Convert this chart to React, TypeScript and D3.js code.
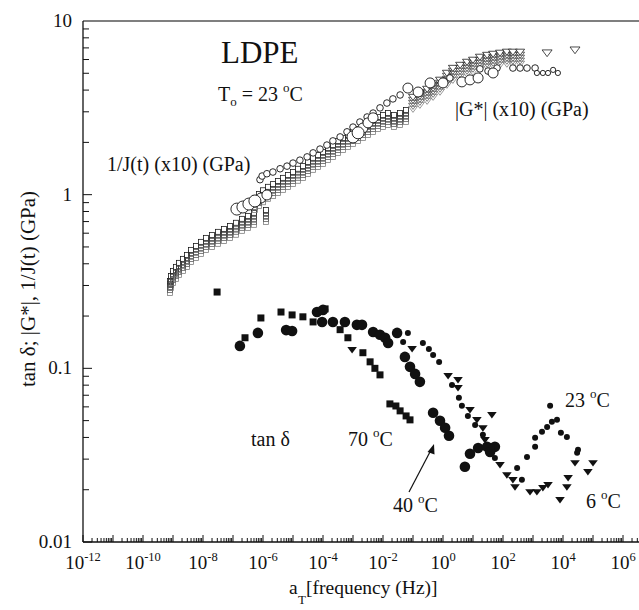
import React from 'react';
import * as d3 from 'd3';

const W = 639;
const H = 610;

// Axis ticks
const X_LABEL_EXPONENTS = [-12, -10, -8, -6, -4, -2, 0, 2, 4, 6];
const Y_TICK_VALUES = [0.01, 0.1, 1, 10];
const Y_TICK_LABELS = ['0.01', '0.1', '1', '10'];

// All series: [log10(aT * frequency / Hz), value]
// 1/J(t) (x10) (GPa) – open squares
const creepSquares: [number, number][] = [
  [-9.1, 0.318], [-9.07, 0.34], [-9.0, 0.364], [-8.9, 0.384], [-8.8, 0.405], [-8.67, 0.427],
  [-8.53, 0.45], [-8.4, 0.481], [-8.23, 0.507], [-8.07, 0.535], [-7.9, 0.564], [-7.7, 0.586],
  [-7.5, 0.611], [-7.3, 0.635], [-7.1, 0.661], [-6.9, 0.689], [-6.7, 0.726], [-6.5, 0.755],
  [-6.3, 0.786], [-5.9, 0.817],
  [-6.27, 0.957], [-6.13, 1.01], [-6.0, 1.06], [-5.83, 1.11], [-5.67, 1.15], [-5.5, 1.2],
  [-5.33, 1.25], [-5.17, 1.3], [-5.0, 1.35], [-4.83, 1.41], [-4.67, 1.46], [-4.5, 1.54],
  [-4.33, 1.63], [-4.17, 1.69], [-4.0, 1.76], [-3.83, 1.86], [-3.67, 1.93], [-3.5, 2.04],
  [-3.33, 2.12], [-3.17, 2.21], [-3.0, 2.3], [-2.83, 2.39], [-2.67, 2.49], [-2.5, 2.59],
  [-2.33, 2.69], [-2.17, 2.8], [-2.0, 2.88], [-1.83, 2.95], [-1.63, 2.88], [-1.43, 2.95],
  [-1.23, 3.07],
];

// |G*| (x10) (GPa) – open down triangles
const modulusTriangles: [number, number][] = [
  [-1.0, 3.65], [-0.77, 3.85], [-0.53, 4.06], [-0.33, 4.28], [-0.1, 4.58], [0.13, 5.02],
  [0.33, 5.36], [0.57, 5.58], [0.8, 5.81], [1.0, 5.97], [1.23, 6.21], [1.47, 6.37],
  [1.67, 6.46], [1.9, 6.55], [2.13, 6.64], [2.33, 6.64], [2.57, 6.64],
];
const modulusTrianglesSparse: [number, number][] = [
  [3.47, 6.55], [4.4, 6.81],
];

// |G*| (x10) (GPa) – open circles, by marker size
const modulusCirclesLarge: [number, number][] = [
  [-6.87, 0.826], [-6.67, 0.849], [-6.47, 0.883], [-6.27, 0.92], [-3.0, 2.15], [-2.83, 2.27],
];
const modulusCirclesMedium: [number, number][] = [
  [-6.07, 0.957], [-5.87, 0.996], [-2.67, 2.42], [-2.5, 2.59], [-2.33, 2.77], [-1.17, 4.11],
  [-0.83, 3.9], [-0.43, 4.4], [0.0, 4.4], [0.63, 4.46], [0.9, 4.58], [1.17, 4.7], [1.67, 5.02],
];
const modulusCirclesSmall: [number, number][] = [
  [-6.1, 1.22], [-6.03, 1.28], [-5.87, 1.32], [-5.67, 1.35], [-5.43, 1.41], [-5.2, 1.46],
  [-5.0, 1.52], [-4.77, 1.58], [-4.53, 1.65], [-4.33, 1.74], [-4.1, 1.83], [-3.87, 1.93],
  [-3.67, 2.04], [-3.43, 2.15], [-3.2, 2.3], [-3.0, 2.45], [-2.77, 2.62], [-2.53, 2.8],
  [-2.33, 2.95], [-2.1, 3.16], [-1.87, 3.37], [-1.67, 3.56], [-1.43, 3.75], [0.23, 4.7],
  [1.23, 5.3], [1.5, 5.15], [1.8, 5.36], [2.33, 5.36], [2.57, 5.36], [2.8, 5.36], [3.07, 5.36],
];
const modulusCirclesTiny: [number, number][] = [
  [3.13, 5.02], [3.33, 5.02], [3.5, 5.02], [3.67, 5.23], [3.83, 5.02],
];

// tan δ – 70 °C filled squares
const tanDelta70: [number, number][] = [
  [-7.53, 0.275], [-6.6, 0.15], [-6.07, 0.195], [-5.4, 0.211], [-5.03, 0.203], [-4.67, 0.198],
  [-4.33, 0.185], [-3.93, 0.22], [-3.43, 0.167], [-3.17, 0.15], [-2.67, 0.123], [-2.43, 0.109],
  [-2.27, 0.1], [-2.1, 0.0917], [-1.77, 0.0624], [-1.57, 0.0607], [-1.43, 0.0569],
  [-1.23, 0.0532], [-1.1, 0.0505],
];
// tan δ – 40 °C large filled circles
const tanDelta40: [number, number][] = [
  [-6.77, 0.1346], [-6.17, 0.16], [-5.23, 0.166], [-5.03, 0.164], [-4.2, 0.211], [-4.0, 0.217],
  [-4.03, 0.185], [-3.67, 0.185], [-3.27, 0.185], [-2.87, 0.178], [-2.7, 0.178], [-2.33, 0.162],
  [-2.1, 0.156], [-1.93, 0.15], [-1.83, 0.14], [-1.53, 0.16], [-1.27, 0.1164], [-1.1, 0.102],
  [-0.93, 0.0929], [-0.77, 0.0836], [-0.33, 0.0555], [-0.1, 0.0499], [0.07, 0.0455],
  [0.2, 0.0409], [0.73, 0.0271], [0.9, 0.0322], [1.17, 0.0348], [1.47, 0.0353], [1.73, 0.0353],
  [1.57, 0.033],
];
// tan δ – 23 °C small filled circles
const tanDelta23: [number, number][] = [
  [-1.17, 0.16], [-1.33, 0.142], [-0.67, 0.14], [-0.47, 0.1294], [-0.33, 0.1194], [-0.13, 0.1088],
  [0.3, 0.0802], [0.53, 0.0676], [0.63, 0.0608], [0.83, 0.0532], [1.07, 0.0472], [1.33, 0.0414],
  [1.63, 0.0353], [1.73, 0.0305], [2.47, 0.0267], [2.63, 0.0228], [2.8, 0.0309], [3.07, 0.0353],
  [3.07, 0.0398], [3.3, 0.0431], [3.47, 0.046], [3.63, 0.0492], [3.8, 0.0506], [3.57, 0.0608],
  [3.93, 0.0426], [4.13, 0.0403], [4.5, 0.034], [4.47, 0.0327],
];
// tan δ – 6 °C filled down triangles
const tanDelta6: [number, number][] = [
  [-3.03, 0.1276], [-1.03, 0.1294], [0.17, 0.0906], [0.5, 0.0859], [0.5, 0.0771], [0.9, 0.0576],
  [1.63, 0.0539], [1.13, 0.0505], [1.33, 0.0453], [1.4, 0.0387], [1.9, 0.0278], [2.13, 0.0243],
  [2.33, 0.0228], [2.4, 0.0207], [2.9, 0.0194], [3.13, 0.0194], [3.33, 0.0205], [3.5, 0.0213],
  [4.17, 0.0234], [4.13, 0.0207], [3.9, 0.0175], [4.4, 0.0285], [4.83, 0.0253], [5.0, 0.0285],
];

const FONT = '"Liberation Serif", "DejaVu Serif", serif';
const STACK = [12, 9, 6, 3];
const STACK_COLORS = ['#777', '#555', '#444', '#333'];

export default function App() {
  const x = d3.scaleLog().domain([1e-12, 1e8]).range([83, 683]);
  const y = d3.scaleLog().domain([0.01, 10]).range([542, 21]);
  const X = (e: number) => x(Math.pow(10, e));
  const Y = (v: number) => y(v);

  const xMinor: { v: number; major: boolean }[] = [];
  for (let d = -12; d <= 7; d++) {
    for (let k = 1; k <= 9; k++) xMinor.push({ v: k * Math.pow(10, d), major: k === 1 });
  }
  const yMinor: { v: number; major: boolean }[] = [];
  for (let d = -2; d <= 0; d++) {
    for (let k = 1; k <= 9; k++) yMinor.push({ v: k * Math.pow(10, d), major: k === 1 });
  }

  const tri = (cx: number, cy: number, s: number) =>
    `M${cx - s},${cy - s * 0.6}L${cx + s},${cy - s * 0.6}L${cx},${cy + s * 0.75}Z`;

  const left = 83, bottom = 542, top = 21;
  const degLabel = (xx: number, yy: number, num: string, k: string) => (
    <text key={k} x={xx} y={yy} fontSize={20} fill="#111">
      {num} <tspan fontSize={13} dy={-9}>o</tspan><tspan dy={9}>C</tspan>
    </text>
  );

  return (
    <svg width={W} height={H} style={{ position: 'absolute', left: 0, top: 0, background: '#fff' }}
      fontFamily={FONT}>
      <rect x={0} y={0} width={W} height={H} fill="#fff" />
      {/* frame */}
      <line x1={left} x2={W} y1={top} y2={top} stroke="#555" strokeWidth={1.5} />
      <line x1={left} x2={left} y1={top} y2={bottom} stroke="#111" strokeWidth={1.3} />
      <line x1={left} x2={W} y1={bottom} y2={bottom} stroke="#111" strokeWidth={1.3} />

      {/* x ticks */}
      {xMinor.map((t, i) => {
        const px = x(t.v);
        if (px > W) return null;
        return <line key={'xt' + i} x1={px} x2={px} y1={bottom} y2={bottom - (t.major ? 7 : 4)}
          stroke="#111" strokeWidth={1} />;
      })}
      {/* y ticks */}
      {yMinor.map((t, i) => {
        const py = y(t.v);
        return <line key={'yt' + i} x1={left} x2={left + (t.major ? 9 : 6)} y1={py} y2={py}
          stroke="#111" strokeWidth={1} />;
      })}

      {/* x tick labels */}
      {X_LABEL_EXPONENTS.map((e) => (
        <text key={'xl' + e} x={X(e)} y={569} textAnchor="middle" fontSize={19} fill="#111">
          10<tspan fontSize={12.5} dy={-8}>{e}</tspan>
        </text>
      ))}
      {/* y tick labels */}
      {Y_TICK_VALUES.map((v, i) => (
        <text key={'yl' + i} x={72} y={y(v) + 6} textAnchor="end" fontSize={19} fill="#111">
          {Y_TICK_LABELS[i]}
        </text>
      ))}

      {/* axis titles */}
      <text transform="translate(35,289) rotate(-90)" textAnchor="middle" fontSize={21} fill="#111">
        tan δ; |G*|, 1/J(t) (GPa)
      </text>
      <text x={289} y={594} fontSize={19.5} fill="#111">a</text>
      <text x={298} y={604} fontSize={13} fill="#111">T</text>
      <text x={306} y={594} fontSize={19.5} fill="#111">[frequency (Hz)]</text>

      {/* upper: 1/J(t) open squares (stacked to mimic overlapping data) */}
      <g fill="none" strokeWidth={0.75}>
        {creepSquares.map(([e, v], i) => {
          const cx = X(e), cy = Y(v);
          return (
            <g key={'cs' + i}>
              {STACK.map((o, j) => (
                <rect key={j} x={cx - 2.5} y={cy - 2.5 + o} width={5} height={5} stroke={STACK_COLORS[j]} />
              ))}
              <rect x={cx - 2.5} y={cy - 2.5} width={5} height={5} fill="#fff" stroke="#111" />
            </g>
          );
        })}
      </g>
      {/* upper: open triangles */}
      <g fill="none" strokeWidth={0.75}>
        {modulusTriangles.map(([e, v], i) => {
          const cx = X(e), cy = Y(v);
          return (
            <g key={'mt' + i}>
              {STACK.map((o, j) => (
                <path key={j} d={tri(cx, cy + o, 4.5)} stroke={STACK_COLORS[j]} />
              ))}
              <path d={tri(cx, cy, 4.5)} fill="#fff" stroke="#111" />
            </g>
          );
        })}
        {modulusTrianglesSparse.map(([e, v], i) => (
          <path key={'mts' + i} d={tri(X(e), Y(v), 5)} fill="#fff" stroke="#111" />
        ))}
      </g>
      {/* upper: open circles */}
      <g fill="#fff" stroke="#111" strokeWidth={0.9}>
        {modulusCirclesSmall.map(([e, v], i) => (
          <circle key={'mcs' + i} cx={X(e)} cy={Y(v)} r={3.3} />
        ))}
        {modulusCirclesTiny.map(([e, v], i) => (
          <circle key={'mct' + i} cx={X(e)} cy={Y(v)} r={2.6} />
        ))}
        {modulusCirclesMedium.map(([e, v], i) => (
          <circle key={'mcm' + i} cx={X(e)} cy={Y(v)} r={5} />
        ))}
        {modulusCirclesLarge.map(([e, v], i) => (
          <circle key={'mcl' + i} cx={X(e)} cy={Y(v)} r={6} />
        ))}
      </g>

      {/* lower: tan delta */}
      <g fill="#111">
        {tanDelta70.map(([e, v], i) => (
          <rect key={'t70' + i} x={X(e) - 3.5} y={Y(v) - 3.5} width={7} height={7} />
        ))}
        {tanDelta40.map(([e, v], i) => (
          <circle key={'t40' + i} cx={X(e)} cy={Y(v)} r={5.3} />
        ))}
        {tanDelta23.map(([e, v], i) => (
          <circle key={'t23' + i} cx={X(e)} cy={Y(v)} r={3} />
        ))}
        {tanDelta6.map(([e, v], i) => (
          <path key={'t6' + i} d={tri(X(e), Y(v), 4.8)} />
        ))}
      </g>

      {/* annotations */}
      <text x={221} y={63} fontSize={31} fill="#111">LDPE</text>
      <text x={218} y={101} fontSize={20} fill="#111">
        T<tspan fontSize={13} dy={5}>o</tspan><tspan dy={-5}> = 23 </tspan>
        <tspan fontSize={13} dy={-9}>o</tspan><tspan dy={9}>C</tspan>
      </text>
      <text x={107} y={171} fontSize={20} fill="#111">1/J(t) (x10) (GPa)</text>
      <text x={455} y={116} fontSize={20} fill="#111">|G*| (x10) (GPa)</text>
      <text x={251} y={446} fontSize={20} fill="#111">tan δ</text>
      {degLabel(348, 446, '70', 'l70')}
      {degLabel(393, 512, '40', 'l40')}
      {degLabel(565, 407, '23', 'l23')}
      {degLabel(586, 508, '6', 'l6')}
      {/* arrow */}
      <line x1={409} y1={492} x2={431} y2={450} stroke="#111" strokeWidth={1.2} />
      <path d="M434,444 L427.5,452 L434.5,454.5 Z" fill="#111" />
    </svg>
  );
}
